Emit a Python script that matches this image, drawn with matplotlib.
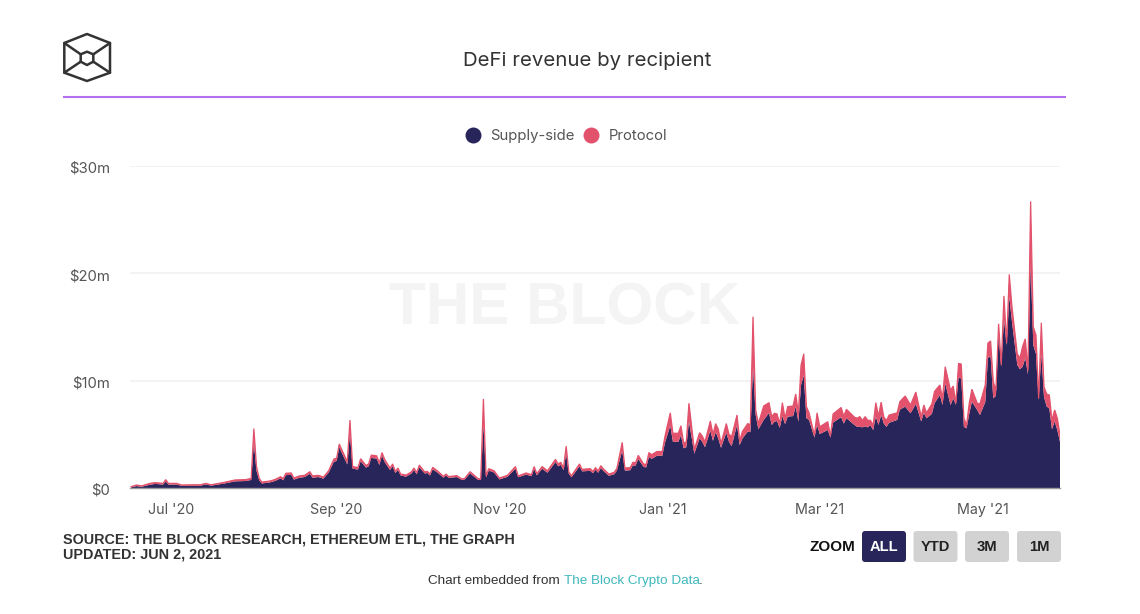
import matplotlib
matplotlib.use("Agg")
import matplotlib.pyplot as plt
import matplotlib.transforms as mtrans
import numpy as np
import pandas as pd
from matplotlib.lines import Line2D
from matplotlib.patches import FancyBboxPatch, Polygon

start_date = "2020-06-16"
days = [0,2,4,7,9,12,13,14,17,19,
        23,26,28,30,35,39,43,45,46,47,
        48,49,52,54,56,57,58,60,61,63,
        65,67,68,70,71,72,74,76,77,78,
        79,81,82,83,85,86,88,89,90,92,
        93,94,95,97,98,99,100,101,103,105,
        106,107,108,110,111,112,113,115,117,118,
        119,122,124,125,127,130,131,132,133,134,
        136,138,141,144,145,148,150,151,152,154,
        156,159,160,161,162,163,164,165,168,169,
        172,173,174,175,176,177,179,181,182,184,
        185,187,188,189,190,192,193,194,195,197,
        199,200,202,203,205,206,207,208,209,211,
        213,214,215,217,218,219,220,221,223,224,
        225,227,228,229,231,232,233,234,235,237,
        239,240,241,242,243,244,245,246,248,249,
        250,251,252,253,254,256,257,258,261,262,
        263,266,267,268,271,272,273,274,275,276,
        277,278,279,280,281,282,283,284,287,288,
        290,292,294,296,297,298,300,301,303,304,
        305,307,308,309,310,311,312,313,314,315,
        317,318,320,321,322,323,324,325,326,327,
        328,329,330,332,333,334,335,336,337,338,
        339,340,341,342,343,344,345,346,347,348]
total_revenue = [.12,.28,.2,.43,.5,.43,.78,.43,.43,.28,
        .3,.3,.43,.3,.53,.75,.78,.9,5.53,2.0,
        .9,.55,.65,.8,1.05,.87,1.37,1.4,.93,1.12,
        1.18,1.52,1.12,1.18,1.12,1.0,1.6,2.7,2.76,4.1,
        3.54,2.45,6.33,2,1.9,2.73,2.1,2.24,3.07,3,
        2.36,3.3,2.67,1.86,2.24,1.55,1.86,1.3,1.2,1.5,
        1.86,1.43,2.14,1.5,1.55,1.3,1.93,1.55,1.09,1.3,
        1.06,1.15,.84,.9,1.52,.87,.84,8.3,1.12,1.8,
        1.6,.93,1.18,2.0,1.12,1.4,1.24,2.0,1.33,2.0,
        1.6,2.67,2.24,2.4,1.86,3.9,1.5,1.15,2.24,1.74,
        1.8,1.55,1.9,1.6,2.08,1.77,1.3,1.46,1.83,4.25,
        1.86,1.9,2.4,2.35,3.04,2.24,2.2,3.3,3.1,3.4,
        3.4,4.8,7.0,5.1,5.1,5.8,4.2,4.3,7.9,3.6,
        5.15,4.84,4.3,6.24,5.0,6.0,5.47,4.15,6.0,5.0,
        4.8,6.8,4.4,5.25,6.0,5.9,15.96,7.27,6.0,7.64,
        7.95,6.65,6.96,6.9,6.0,7.95,6.5,7.58,7.64,8.76,
        6.96,11.46,12.5,7.58,7.0,4.94,7.0,5.7,6.18,4.84,
        6.9,7.5,6.7,7.33,6.6,6.5,6.65,6.3,6.65,6.3,
        6.3,5.84,7.95,6.7,8.0,6.6,6.3,6.8,7.0,8.04,
        8.57,7.73,8.94,6.65,7.73,7.0,7.83,9.0,9.6,8.35,
        11.3,9.1,9.5,7.9,11.6,11.55,6.5,5.87,7.9,9.2,
        7.9,7.83,9.6,13.5,13.7,9.9,9.13,15.3,11.46,17.9,
        13.5,19.9,16.9,12.5,12.1,13.2,13.9,11,26.7,15,
        14.25,8.35,15.4,9.44,8.76,8.66,6.3,7.27,6.5,4.94]
supply_side = [.05,.18,.12,.3,.38,.32,.6,.32,.32,.2,
        .22,.22,.33,.22,.42,.62,.65,.75,4.2,1.6,
        .72,.42,.52,.66,.9,.72,1.2,1.22,.78,.95,
        1.02,1.32,.95,1.02,.97,.86,1.42,2.45,2.52,3.8,
        3.25,2.2,5.1,1.8,1.72,2.5,1.9,2.02,2.8,2.74,
        2.14,3.02,2.42,1.68,2.02,1.4,1.68,1.16,1.06,1.34,
        1.68,1.28,1.94,1.35,1.4,1.16,1.75,1.4,.96,1.16,
        .94,1.02,.74,.8,1.36,.76,.74,5.9,.98,1.62,
        1.44,.8,1.04,1.8,1.0,1.25,1.1,1.8,1.18,1.8,
        1.42,2.42,2.02,2.16,1.66,3.2,1.32,1.0,2.02,1.55,
        1.6,1.38,1.7,1.42,1.86,1.58,1.14,1.28,1.62,3.5,
        1.62,1.66,2.12,2.08,2.7,1.96,1.92,2.9,2.72,3.0,
        3.0,4.2,5.8,4.3,4.3,4.9,3.7,3.8,6.2,3.2,
        4.63,4.3,3.8,5.34,4.4,5.2,4.6,3.75,5.15,4.3,
        3.9,5.87,4.0,4.6,5.25,5.2,11.3,6.8,5.47,6.34,
        7.0,5.87,6.18,6.24,5.6,6.7,5.96,6.65,6.7,7.58,
        6.18,9.6,10.5,6.5,6.34,4.7,5.87,5.03,5.4,4.7,
        6.1,6.6,6.0,6.5,5.87,5.7,5.7,5.65,5.75,5.65,
        5.85,5.4,6.65,5.87,6.8,6.0,5.7,6.08,6.34,7.3,
        7.58,6.96,7.83,6.2,7.0,6.5,6.9,7.9,8.66,7.73,
        9.75,7.73,8.35,7.75,10.3,10.2,5.7,5.56,6.9,8.04,
        7.27,6.8,8.0,12.1,12.3,8.35,8.6,14.25,11.3,15.8,
        13.3,17.8,15.5,11.46,11.06,11.3,12.1,10.6,20.9,13.3,
        12.5,8.2,12.5,8.5,7.6,7.4,5.47,6.2,5.4,4.3]
series_names = ["Supply-side", "Protocol"]
y_ticks = [0, 10, 20, 30]
y_labels = ["$0", "$10m", "$20m", "$30m"]
x_tick_dates = ["2020-07-01", "2020-09-01", "2020-11-01", "2021-01-01", "2021-03-01", "2021-05-01"]
x_labels = ["Jul '20", "Sep '20", "Nov '20", "Jan '21", "Mar '21", "May '21"]
zoom_buttons = ["ALL", "YTD", "3M", "1M"]

NAVY = "#28255b"
RED = "#e2526c"
GREY = "#555555"
W, H = 1140, 614
UI = "Inter"
HELV = "Liberation Sans"

dates = pd.Timestamp(start_date) + pd.to_timedelta(days, unit="D")
supply = np.array(supply_side, float)
total = np.array(total_revenue, float)

fig = plt.figure(figsize=(W / 100, H / 100), dpi=100, facecolor="white")

# overlay in pixel coordinates for the page furniture
ov = fig.add_axes([0, 0, 1, 1], zorder=3)
ov.set_xlim(0, W)
ov.set_ylim(H, 0)
ov.axis("off")
ov.patch.set_alpha(0)

# plot
ax = fig.add_axes([130 / W, 1 - 488 / H, 930 / W, 322 / H], zorder=1)
ax.stackplot(dates, supply, total - supply, colors=[NAVY, RED], linewidth=0, zorder=3)
ax.plot(dates, total, color=RED, lw=0.9, zorder=4, solid_joinstyle="miter")
ax.set_xlim(pd.Timestamp(start_date) - pd.Timedelta(days=0.4), dates[-1])
ax.set_ylim(0, 30)
ax.set_yticks(y_ticks)
ax.set_yticklabels(y_labels, family=UI, fontsize=10.7, color=GREY)
ax.set_xticks(pd.to_datetime(x_tick_dates))
ax.set_xticklabels(x_labels, family=UI, fontsize=10.3, color=GREY)
ax.tick_params(axis="both", length=0)
ax.tick_params(axis="y", pad=14.5)
ax.tick_params(axis="x", pad=10.5)
shift_down = mtrans.ScaledTranslation(0, -3 / 100, fig.dpi_scale_trans)
for lab in ax.get_yticklabels():
    lab.set_verticalalignment("center")
    lab.set_transform(lab.get_transform() + shift_down)
ax.grid(axis="y", color="#f0f0f0", lw=1.1, zorder=0)
ax.set_axisbelow(True)
for s in ["top", "right", "left"]:
    ax.spines[s].set_visible(False)
ax.spines["bottom"].set_color("#999999")
ax.spines["bottom"].set_linewidth(1.0)
ax.spines["bottom"].set_zorder(6)
ax.text(0.467, 0.555, "THE BLOCK", transform=ax.transAxes, ha="center", va="center",
        family=HELV, weight="bold", fontsize=43.4, color="#f4f4f4", zorder=1)

# legend
handles = [Line2D([], [], ls="", marker="o", ms=11.5, color=NAVY, mew=0),
           Line2D([], [], ls="", marker="o", ms=11.5, color=RED, mew=0)]
leg = ov.legend(handles, series_names, loc="center left", bbox_to_anchor=(461, 136),
                bbox_transform=ov.transData, ncol=2, frameon=False,
                prop={"family": UI, "size": 10.7}, handletextpad=0.35,
                columnspacing=0.35, handlelength=1.6, borderpad=0, borderaxespad=0)
for t in leg.get_texts():
    t.set_color(GREY)

# title and rule
ov.text(587, 60.5, "DeFi revenue by recipient", ha="center", va="center", family=UI,
        fontsize=14.7, color="#333333")
ov.plot([63, 1066], [97, 97], color="#b36ff0", lw=1.5, solid_capstyle="butt")

# logo
c = "#333333"
outer = [(87, 34), (110, 43), (110, 72.7), (87, 81), (64.3, 72.7), (64.3, 43)]
inner = [(87, 51.7), (93.3, 54.3), (93.3, 61.7), (87, 65), (80.7, 61.7), (80.7, 54.3)]
ov.add_patch(Polygon(outer, closed=True, fill=False, ec=c, lw=1.8, joinstyle="round"))
ov.add_patch(Polygon(inner, closed=True, fill=False, ec=c, lw=1.8, joinstyle="round"))
for a, b in [(outer[5], inner[5]), (outer[1], inner[1]), (outer[4], inner[4]), (outer[2], inner[2])]:
    ov.plot([a[0], b[0]], [a[1], b[1]], color=c, lw=1.8, solid_capstyle="round")

# source
ov.text(63, 539, "SOURCE: THE BLOCK RESEARCH, ETHEREUM ETL, THE GRAPH", family=HELV, weight="bold",
        fontsize=10.37, color="#333333", va="center", ha="left")
ov.text(63, 554.5, "UPDATED: JUN 2, 2021", family=HELV, weight="bold",
        fontsize=10.37, color="#333333", va="center", ha="left")

# zoom buttons
ov.text(832, 547, "ZOOM", family=HELV, weight="bold", fontsize=11, color="#111111", ha="center", va="center")
lefts = [862, 913.5, 965, 1017]
for i, (x0, name) in enumerate(zip(lefts, zoom_buttons)):
    active = i == 0
    ov.add_patch(FancyBboxPatch((x0 + 3, 534), 38, 25, boxstyle="round,pad=3,rounding_size=3",
                                fc=NAVY if active else "#d2d2d2", ec="none"))
    ov.text(x0 + 22, 547, name, family=HELV, weight="bold", fontsize=10.6,
            color="white" if active else "#222222", ha="center", va="center")

# footer
ov.text(428, 581, "Chart embedded from ", family=HELV, fontsize=9.7, color="#333333", ha="left", va="center")
ov.text(564.5, 581, "The Block Crypto Data", family=HELV, fontsize=9.7, color="#3fb8bd", ha="left", va="center")
ov.text(699, 581, ".", family=HELV, fontsize=9.7, color="#333333", ha="left", va="center")

fig.savefig("out.png", dpi=100, facecolor="white")
